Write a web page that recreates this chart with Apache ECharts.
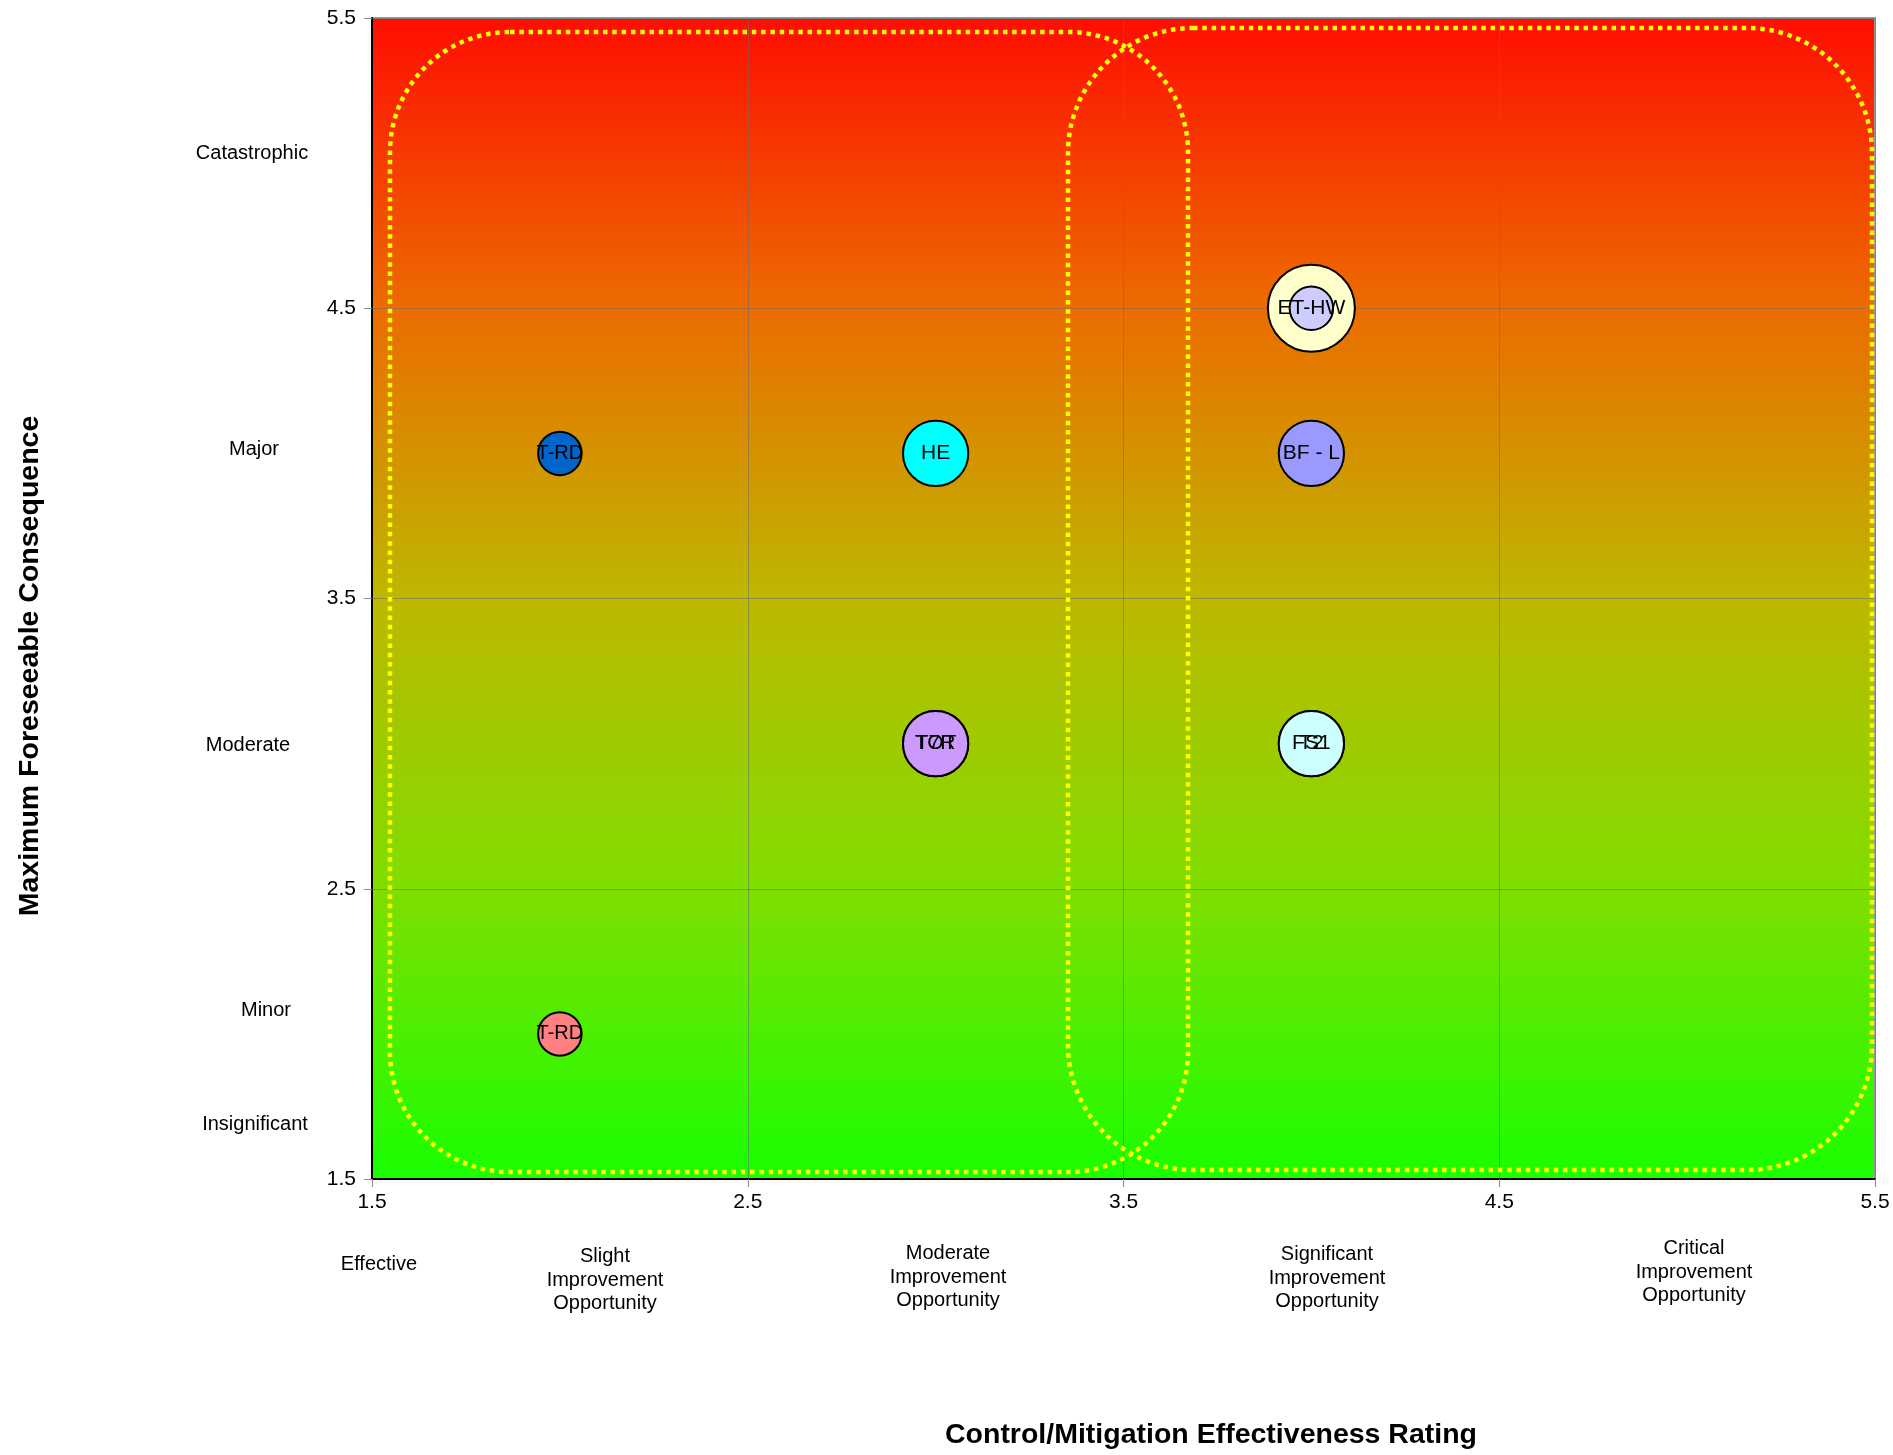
<!DOCTYPE html>
<html><head><meta charset="utf-8">
<script src="https://cdn.jsdelivr.net/npm/echarts@6/dist/echarts.min.js"></script>
<style>html,body{margin:0;padding:0;background:#fff}#chart{width:1893px;height:1455px}</style>
</head><body><div id="chart"></div>
<script>
// ---------- data ----------
const riskLabels     = ['T-RD', 'HE', 'TOT', 'T7R', 'T-RD', 'ET-HW', '', 'BF - L', 'FS1', 'T2'];
const controlRating  = [2, 3, 3, 3, 2, 4, 4, 4, 4, 4];
const consequence    = [4, 4, 3, 3, 2, 4.5, 4.5, 4, 3, 3];
const likelihood     = [2, 3, 3, 3, 2, 4, 2, 3, 3, 3];
const consequenceNames = ['Catastrophic', 'Major', 'Moderate', 'Minor', 'Insignificant'];
const ratingNames = ['Effective', 'Slight\nImprovement\nOpportunity', 'Moderate\nImprovement\nOpportunity',
  'Significant\nImprovement\nOpportunity', 'Critical\nImprovement\nOpportunity'];
const axisMin = 1.5, axisMax = 5.5, axisStep = 1;
const xTitle = 'Control/Mitigation Effectiveness Rating';
const yTitle = 'Maximum Foreseeable Consequence';

// ---------- styles / layout ----------
const bubbleColors = ['#0066CC', '#00FFFF', '#CC99FF', '#CC99FF', '#FF8080', '#FFFFCC', '#CCCCFF', '#9999FF', '#CCFFFF', '#CCFFFF'];
const labelSizes = [20, 21, 21, 21, 20, 21, 21, 21, 21, 21];
const FONT = '"Liberation Sans", Arial, Helvetica, sans-serif';
const G = { left: 372, top: 18, width: 1503, height: 1161 };
const PX_PER_SIZE = 21.75;
const consequenceLabelPos = [[252, 153], [254, 449], [248, 745], [266, 1010], [255, 1124]];
const ratingLabelPos = [[379, 1264], [605, 1280], [948, 1277], [1327, 1278], [1694, 1272]];
const zones = [
  { x: 390, y: 32, w: 798, h: 1140, r: 120 },
  { x: 1068, y: 28, w: 804, h: 1142, r: 125 }
];

const chart = echarts.init(document.getElementById('chart'), null, { renderer: 'canvas' });

const seriesData = riskLabels.map((name, i) => ({
  name: name,
  value: [controlRating[i], consequence[i], likelihood[i]],
  itemStyle: { color: bubbleColors[i] },
  label: { fontSize: labelSizes[i] }
}));

const graphics = [];
zones.forEach(z => graphics.push({
  type: 'rect', z: 1, silent: true,
  shape: { x: z.x, y: z.y, width: z.w, height: z.h, r: z.r },
  style: { fill: 'none', stroke: '#FFFF00', lineWidth: 4.5, lineDash: [4.5, 4.8], lineCap: 'butt' }
}));
consequenceNames.forEach((t, i) => graphics.push({
  type: 'text', z: 5,
  style: { text: t, x: consequenceLabelPos[i][0], y: consequenceLabelPos[i][1], align: 'center', verticalAlign: 'middle',
    fontSize: 20, fontFamily: FONT, fill: '#000' }
}));
ratingNames.forEach((t, i) => graphics.push({
  type: 'text', z: 5,
  style: { text: t, x: ratingLabelPos[i][0], y: ratingLabelPos[i][1], align: 'center', verticalAlign: 'middle',
    fontSize: 20, lineHeight: 23.5, fontFamily: FONT, fill: '#000' }
}));
graphics.push({
  type: 'text', z: 5,
  x: 1211, y: 1435,
  style: { text: xTitle, x: 0, y: 0, align: 'center', verticalAlign: 'middle', fontSize: 28.5, fontWeight: 'bold', fontFamily: FONT, fill: '#000' }
});
graphics.push({
  type: 'text', z: 5,
  x: 30, y: 666, rotation: Math.PI / 2,
  style: { text: yTitle, x: 0, y: 0, align: 'center', verticalAlign: 'middle', fontSize: 28.5, fontWeight: 'bold', fontFamily: FONT, fill: '#000' }
});

const axisCommon = {
  type: 'value', min: axisMin, max: axisMax, interval: axisStep,
  axisLine: { show: true, onZero: false, lineStyle: { color: '#000', width: 2 } },
  axisTick: { show: true, inside: false, length: 8, lineStyle: { color: '#888', width: 1 } },
  splitLine: { show: true, lineStyle: { color: 'rgba(110,110,110,0.55)', width: 1 } },
  axisLabel: { color: '#000', fontSize: 21, fontFamily: FONT, showMinLabel: true, showMaxLabel: true }
};

chart.setOption({
  animation: false,
  backgroundColor: '#fff',
  grid: {
    left: G.left, top: G.top, width: G.width, height: G.height,
    show: true, borderColor: '#999', borderWidth: 2,
    backgroundColor: new echarts.graphic.LinearGradient(0, 0, 0, 1, [
      { offset: 0, color: '#FF0D00' },
      { offset: 0.25, color: '#EC6C00' },
      { offset: 0.5, color: '#BDB800' },
      { offset: 0.75, color: '#80DE00' },
      { offset: 1, color: '#18FF00' }
    ])
  },
  xAxis: Object.assign({}, axisCommon, { axisLabel: Object.assign({}, axisCommon.axisLabel, { margin: 13 }) }),
  yAxis: Object.assign({}, axisCommon, { axisLabel: Object.assign({}, axisCommon.axisLabel, { margin: 16 }) }),
  graphic: graphics,
  series: [{
    type: 'scatter',
    z: 3,
    data: seriesData,
    symbol: 'circle',
    symbolSize: v => v[2] * PX_PER_SIZE,
    itemStyle: { borderColor: '#000', borderWidth: 2, opacity: 1 },
    label: { show: true, position: 'inside', formatter: '{b}', color: '#000', fontFamily: FONT, fontSize: 21 },
    emphasis: { disabled: true }
  }]
});
</script></body></html>
